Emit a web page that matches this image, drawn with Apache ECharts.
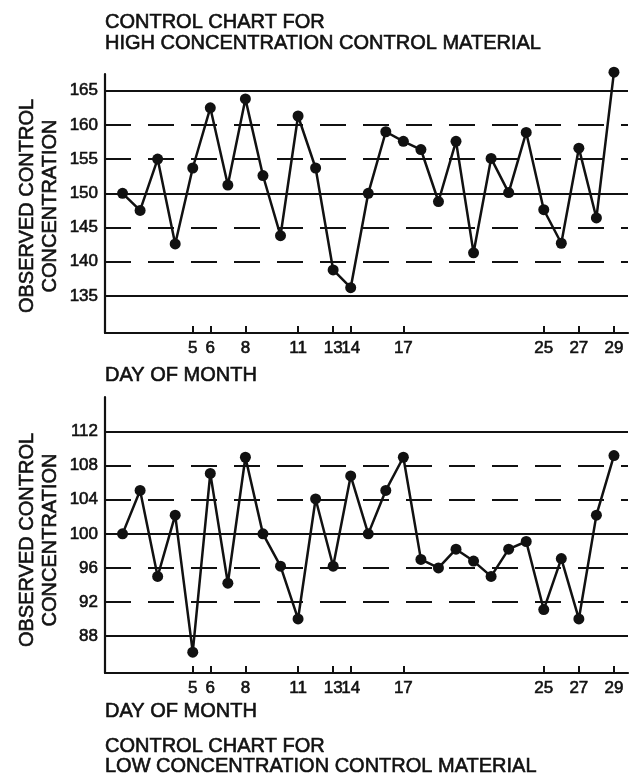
<!DOCTYPE html>
<html>
<head>
<meta charset="utf-8">
<script src="https://cdn.jsdelivr.net/npm/echarts@6/dist/echarts.min.js"></script>
<style>
  html, body { margin: 0; padding: 0; background: #fff; }
  #chart { width: 630px; height: 781px; }
</style>
</head>
<body>
<div id="chart"></div>
<script>
// Day of month for each run
const days = [1, 2, 3, 4, 5, 6, 7, 8, 9, 10, 11, 12, 13, 14, 15,
              16, 17, 18, 19, 20, 21, 22, 23, 24, 25, 26, 27, 28, 29];

// High concentration control material
const highValues = [150, 147.5, 155, 142.6, 153.7, 162.5, 151.2, 163.8, 152.6, 143.8,
                    161.3, 153.7, 138.8, 136.2, 150, 159, 157.6, 156.4, 148.8, 157.6,
                    141.3, 155.1, 150.1, 158.9, 147.6, 142.7, 156.6, 146.4, 167.7];

// Low concentration control material
const lowValues = [100, 105.1, 95, 102.2, 86.1, 107.1, 94.2, 109, 100, 96.2,
                   90, 104.1, 96.2, 106.8, 100, 105.1, 109, 97, 96, 98.2,
                   96.8, 95, 98.2, 99.1, 91.1, 97.1, 90, 102.2, 109.2];

// Labelled days on the x axis
const dayTicks = [5, 6, 8, 11, 13, 14, 17, 25, 27, 29];

// Tick labels and control limits
const highTicks = [135, 140, 145, 150, 155, 160, 165];
const highSolid = [135, 150, 165];
const highDashed = [140, 145, 155, 160];
const lowTicks = [88, 92, 96, 100, 104, 108, 112];
const lowSolid = [88, 100, 112];
const lowDashed = [92, 96, 104, 108];

const FONT = 'Liberation Sans';
const INK = '#111';

function limitLines(solid, dashed) {
    let data = [];
    solid.forEach(v => data.push({ yAxis: v, lineStyle: { type: 'solid', width: 2.2, color: INK } }));
    dashed.forEach(v => data.push({ yAxis: v, lineStyle: { type: [26, 17], width: 2.2, color: INK } }));
    return { silent: true, symbol: ['none', 'none'], label: { show: false }, data: data };
}

// shared tick label look, a touch heavier like the hand lettering
const labelStyle = { color: INK, fontFamily: FONT, fontSize: 17, margin: 7,
                     textBorderColor: INK, textBorderWidth: 0.6 };

function xAxisCfg(idx) {
    return {
        type: 'value', gridIndex: idx, min: 0, max: 29.8,
        axisLine: { lineStyle: { color: INK, width: 2.2 } },
        axisTick: { show: true, inside: true, length: 7, customValues: dayTicks,
                    lineStyle: { color: INK, width: 2 } },
        axisLabel: Object.assign({ customValues: dayTicks }, labelStyle),
        splitLine: { show: false }
    };
}

function yAxisCfg(idx, min, max, ticks) {
    return {
        type: 'value', gridIndex: idx, min: min, max: max,
        axisLine: { show: true, lineStyle: { color: INK, width: 2.2 } },
        axisTick: { show: false },
        axisLabel: Object.assign({ customValues: ticks }, labelStyle),
        splitLine: { show: false }
    };
}

function text(x, y, str) {
    return {
        type: 'text', x: x, y: y,
        style: { text: str, fill: INK, stroke: INK, lineWidth: 0.6, font: '20px "' + FONT + '"',
                 textAlign: 'left', textVerticalAlign: 'middle' }
    };
}

function yName(cy) {
    return {
        type: 'text', x: 39, y: cy, rotation: Math.PI / 2,
        style: { text: 'OBSERVED CONTROL\nCONCENTRATION', fill: INK, stroke: INK, lineWidth: 0.6,
                 font: '20px "' + FONT + '"', textAlign: 'center', textVerticalAlign: 'middle', lineHeight: 23 }
    };
}

let chart = echarts.init(document.getElementById('chart'), null, { renderer: 'canvas' });

let option = {
    backgroundColor: '#fff',
    animation: false,
    grid: [
        { left: 105, right: 2, top: 74, height: 259 },
        { left: 105, right: 2, top: 397, height: 276 }
    ],
    xAxis: [xAxisCfg(0), xAxisCfg(1)],
    yAxis: [yAxisCfg(0, 129.58, 167.44, highTicks), yAxisCfg(1, 83.65, 116.08, lowTicks)],
    series: [
        {
            type: 'line', xAxisIndex: 0, yAxisIndex: 0, clip: false,
            data: days.map((d, i) => [d, highValues[i]]),
            symbol: 'circle', symbolSize: 11,
            lineStyle: { color: INK, width: 2.5 }, itemStyle: { color: INK },
            markLine: limitLines(highSolid, highDashed)
        },
        {
            type: 'line', xAxisIndex: 1, yAxisIndex: 1, clip: false,
            data: days.map((d, i) => [d, lowValues[i]]),
            symbol: 'circle', symbolSize: 11,
            lineStyle: { color: INK, width: 2.5 }, itemStyle: { color: INK },
            markLine: limitLines(lowSolid, lowDashed)
        }
    ],
    graphic: [
        text(105, 22, 'CONTROL CHART FOR'),
        text(105, 43, 'HIGH CONCENTRATION CONTROL MATERIAL'),
        text(105, 375, 'DAY OF MONTH'),
        text(105, 711, 'DAY OF MONTH'),
        text(105, 746, 'CONTROL CHART FOR'),
        text(105, 766, 'LOW CONCENTRATION CONTROL MATERIAL'),
        yName(206),
        yName(540)
    ]
};

chart.setOption(option);
</script>
</body>
</html>
